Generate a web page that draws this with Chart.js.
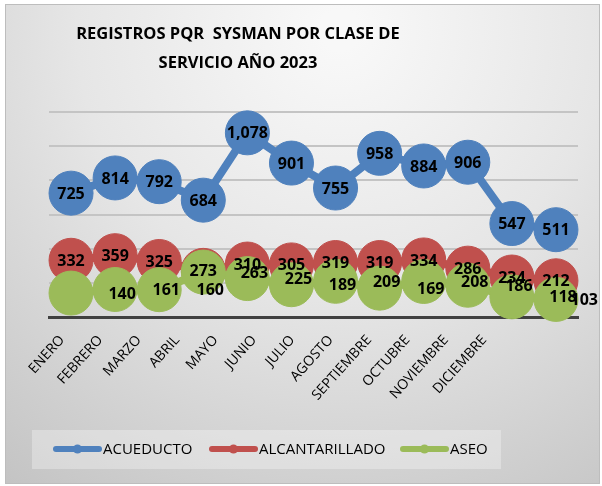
<!DOCTYPE html>
<html>
<head>
<meta charset="utf-8">
<script src="https://cdn.jsdelivr.net/npm/chart.js@4/dist/chart.umd.min.js"></script>
<style>
  html, body { margin: 0; padding: 0; background: #fff; }
  #wrap { width: 602px; height: 486px; }
</style>
</head>
<body>
<div id="wrap"><canvas id="lineChart" width="602" height="486"></canvas></div>
<script>
// datos
const meses = ['ENERO', 'FEBRERO', 'MARZO', 'ABRIL', 'MAYO', 'JUNIO', 'JULIO', 'AGOSTO', 'SEPTIEMBRE', 'OCTUBRE', 'NOVIEMBRE', 'DICIEMBRE'];
const acueducto = [725, 814, 792, 684, 1078, 901, 755, 958, 884, 906, 547, 511];
const alcantarillado = [332, 359, 325, 273, 310, 305, 319, 319, 334, 286, 234, 212];
const aseo = [140, 161, 160, 263, 225, 189, 209, 169, 208, 186, 118, 103];
const series = ['ACUEDUCTO', 'ALCANTARILLADO', 'ASEO'];
const colores = ['#4f81bd', '#c0504d', '#9bbb59'];

const FONT = '"Open Sans", "Noto Sans", sans-serif';

// fondo, marco y titulo
const fondo = {
    id: 'fondo',
    beforeDraw(chart) {
        const ctx = chart.ctx;
        ctx.save();
        ctx.fillStyle = '#ffffff';
        ctx.fillRect(0, 0, chart.width, chart.height);
        const g = ctx.createRadialGradient(340, 30, 20, 340, 30, 560);
        g.addColorStop(0, '#f8f8f8');
        g.addColorStop(0.45, '#e6e6e6');
        g.addColorStop(1, '#c4c4c4');
        ctx.fillStyle = g;
        ctx.fillRect(5, 4, 595, 480);
        ctx.strokeStyle = '#bdbdbd';
        ctx.lineWidth = 1;
        ctx.strokeRect(5.5, 4.5, 594, 479);

        ctx.fillStyle = '#000';
        ctx.font = 'bold 16.5px ' + FONT;
        ctx.textAlign = 'center';
        ctx.textBaseline = 'middle';
        ctx.fillText('REGISTROS PQR  SYSMAN POR CLASE DE', 238, 34);
        ctx.fillText('SERVICIO AÑO 2023', 238, 63);
        ctx.restore();
    }
};

// etiquetas de datos y leyenda
const etiquetas = {
    id: 'etiquetas',
    afterDatasetsDraw(chart) {
        const ctx = chart.ctx;
        const xs = chart.scales.x;
        ctx.save();
        ctx.font = 'bold 16px ' + FONT;
        ctx.fillStyle = '#000';
        ctx.textAlign = 'center';
        ctx.textBaseline = 'middle';
        chart.data.datasets.forEach((ds, d) => {
            const meta = chart.getDatasetMeta(d);
            meta.data.forEach((pt, i) => {
                const txt = ds.data[i].toLocaleString('en-US');
                let x = pt.x;
                if (d === 2) {
                    // en el original las etiquetas de ASEO quedan corridas un mes
                    const w = ctx.measureText(txt).width;
                    x = xs.getPixelForValue(i + 1) + 7;
                    x = Math.min(x, chart.width - 4 - w / 2);
                }
                ctx.fillText(txt, x, pt.y + 1);
            });
        });
        ctx.restore();
    },
    afterDraw(chart) {
        const ctx = chart.ctx;
        ctx.save();
        ctx.fillStyle = 'rgba(255,255,255,0.3)';
        ctx.fillRect(32, 430, 469, 39);
        const pos = [53, 209, 400];
        ctx.font = '15px ' + FONT;
        ctx.textBaseline = 'middle';
        ctx.textAlign = 'left';
        series.forEach((s, i) => {
            const x0 = pos[i];
            ctx.strokeStyle = colores[i];
            ctx.lineWidth = 6;
            ctx.lineCap = 'round';
            ctx.beginPath();
            ctx.moveTo(x0 + 3, 449);
            ctx.lineTo(x0 + 46, 449);
            ctx.stroke();
            ctx.fillStyle = colores[i];
            ctx.beginPath();
            ctx.arc(x0 + 24.5, 449, 4.5, 0, Math.PI * 2);
            ctx.fill();
            ctx.fillStyle = '#000';
            ctx.fillText(s, x0 + 50, 450);
        });
        ctx.restore();
    }
};

const ctx = document.getElementById('lineChart').getContext('2d');
const lineChart = new Chart(ctx, {
    type: 'line',
    data: {
        labels: meses,
        datasets: [acueducto, alcantarillado, aseo].map((vals, i) => ({
            label: series[i],
            data: vals,
            borderColor: colores[i],
            backgroundColor: colores[i],
            pointBackgroundColor: colores[i],
            pointBorderColor: colores[i],
            borderWidth: 8,
            pointRadius: 22,
            pointHoverRadius: 22,
            pointBorderWidth: 1,
            tension: 0,
            clip: false,
            order: 3 - i // verde encima del rojo
        }))
    },
    options: {
        responsive: false,
        animation: false,
        events: [],
        layout: {
            padding: { top: 112, left: 49, right: 24, bottom: 69 }
        },
        plugins: {
            legend: { display: false },
            title: { display: false },
            tooltip: { enabled: false }
        },
        scales: {
            x: {
                offset: true,
                grid: { display: false },
                ticks: { display: false },
                border: { display: true, color: '#404040', width: 3 },
                afterFit(s) { s.height = 0; }
            },
            // eje solo para los nombres de los meses (van mas juntos que los puntos)
            x2: {
                type: 'linear',
                position: 'bottom',
                min: -0.34,
                max: 13.44,
                grid: { display: false },
                border: { display: false },
                afterBuildTicks(s) { s.ticks = meses.map((m, i) => ({ value: i })); },
                ticks: {
                    autoSkip: false,
                    minRotation: 48,
                    maxRotation: 48,
                    padding: 7,
                    color: '#000',
                    font: { family: FONT, size: 14 },
                    callback: (v) => meses[v]
                },
                afterFit(s) {
                    s.height = 100;
                    s.paddingLeft = 0;
                    s.paddingRight = 0;
                }
            },
            y: {
                min: 0,
                max: 1200,
                ticks: { display: false, stepSize: 200 },
                border: { display: false },
                grid: { color: '#c4c4c4', lineWidth: 2, drawTicks: false },
                afterFit(s) { s.width = 0; }
            }
        }
    },
    plugins: [fondo, etiquetas]
});
</script>
</body>
</html>
